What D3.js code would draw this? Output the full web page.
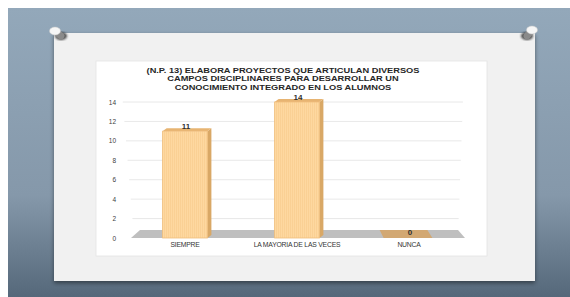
<!DOCTYPE html>
<html>
<head>
<meta charset="utf-8">
<script src="https://cdn.jsdelivr.net/npm/d3@7"></script>
<style>
  body { margin: 0; background: #fff; }
  svg { display: block; font-family: "Liberation Sans", Arial, sans-serif; }
</style>
</head>
<body>
<svg id="chart" width="570" height="297"></svg>
<script>
// data
var categories = ['SIEMPRE', 'LA MAYORIA DE LAS VECES', 'NUNCA']
var values = [11, 14, 0]
var yTicks = [0, 2, 4, 6, 8, 10, 12, 14]
var titleLines = [
    '(N.P. 13) ELABORA PROYECTOS QUE ARTICULAN DIVERSOS',
    'CAMPOS DISCIPLINARES PARA DESARROLLAR UN',
    'CONOCIMIENTO INTEGRADO EN LOS ALUMNOS'
]

var svg = d3.select('#chart')
var defs = svg.append('defs')

// backdrop gradient (slide background)
var bg = defs.append('linearGradient').attr('id', 'bg').attr('x1', 0).attr('y1', 0).attr('x2', 0).attr('y2', 1)
bg.append('stop').attr('offset', '0%').attr('stop-color', '#93a8ba')
bg.append('stop').attr('offset', '65%').attr('stop-color', '#8598aa')
bg.append('stop').attr('offset', '100%').attr('stop-color', '#55687a')

var shadow = defs.append('filter').attr('id', 'sh').attr('x', '-10%').attr('y', '-10%').attr('width', '120%').attr('height', '130%')
shadow.append('feDropShadow').attr('dx', 0).attr('dy', 2).attr('stdDeviation', 2).attr('flood-color', '#000').attr('flood-opacity', 0.45)

var blur = defs.append('filter').attr('id', 'bl')
blur.append('feGaussianBlur').attr('stdDeviation', 1)

// bar texture - thin vertical stripes
var pat = defs.append('pattern').attr('id', 'stripes').attr('patternUnits', 'userSpaceOnUse').attr('width', 2).attr('height', 4)
pat.append('rect').attr('width', 2).attr('height', 4).attr('fill', '#fed8a0')
pat.append('rect').attr('width', 0.6).attr('height', 4).attr('fill', '#f8cc8c')

svg.append('rect').attr('x', 8).attr('y', 8).attr('width', 562).attr('height', 289).attr('fill', 'url(#bg)')

// card
svg.append('rect').attr('x', 54).attr('y', 33).attr('width', 481).attr('height', 248)
    .attr('fill', '#f1f1f1').attr('filter', 'url(#sh)')

// pins
function pin(cx, cy, sx, sy) {
    svg.append('ellipse').attr('cx', sx).attr('cy', sy).attr('rx', 6).attr('ry', 4)
        .attr('fill', '#2e2e2e').attr('opacity', 0.85).attr('filter', 'url(#bl)')
    svg.append('line').attr('x1', cx).attr('y1', cy).attr('x2', sx).attr('y2', sy)
        .attr('stroke', '#8a8a8a').attr('stroke-width', 7).attr('stroke-linecap', 'round')
    svg.append('ellipse').attr('cx', cx).attr('cy', cy).attr('rx', 5.5).attr('ry', 4)
        .attr('fill', '#f6f6f6').attr('stroke', '#c8c8c8').attr('stroke-width', 0.5)
}
pin(55, 31, 61, 36)
pin(532, 30, 527, 36)

// chart area
svg.append('rect').attr('x', 96).attr('y', 61).attr('width', 391).attr('height', 195)
    .attr('fill', '#ffffff').attr('stroke', '#e4e4e4').attr('stroke-width', 0.8)

var x = d3.scaleBand().domain(categories).range([129, 465]).paddingInner(0.6).paddingOuter(0.3)
var y = d3.scaleLinear().domain([0, 14]).range([238, 102])

// title (glyphs are wide in the original, so stretch horizontally)
svg.append('g').attr('transform', 'translate(283,0) scale(1.25,1)')
    .selectAll('text').data(titleLines).join('text')
    .attr('x', 0).attr('y', (d, i) => 73 + i * 8.5)
    .attr('text-anchor', 'middle').attr('font-size', 7.4).attr('font-weight', 'bold')
    .attr('fill', '#262626').text(d => d)

// gridlines
svg.append('g').selectAll('line').data(yTicks.filter(d => d > 0)).join('line')
    .attr('x1', d => 134 - d * 0.8).attr('x2', d => 458 + d * 0.35)
    .attr('y1', d => y(d)).attr('y2', d => y(d))
    .attr('stroke', '#e2e2e2').attr('stroke-width', 0.8)

// y axis labels
var yAxis = d3.axisLeft(y).tickValues(yTicks).tickSize(0).tickPadding(0)
var ya = svg.append('g').attr('transform', 'translate(116,0)').call(yAxis)
ya.select('.domain').remove()
ya.selectAll('text').attr('font-size', 6.5).attr('fill', '#404040').attr('font-family', 'Liberation Sans, Arial, sans-serif')

// floor
var y0 = y(0)
svg.append('polygon')
    .attr('points', [[131, y0], [465, y0], [458, y0 - 8], [140, y0 - 8]].map(p => p.join(',')).join(' '))
    .attr('fill', '#bfbfbf')

// bars (3d-ish)
var dx = 4, dy = -3
var bars = svg.append('g').selectAll('g').data(categories).join('g')
bars.each(function (c, i) {
    var g = d3.select(this)
    var x0 = x(c), w = x.bandwidth(), v = values[i]
    if (v === 0) {
        g.append('polygon')
            .attr('points', [[x0 - 3, y0], [x0 + w + 1, y0], [x0 + w - 4, y0 - 8], [x0 - 7, y0 - 8]].map(p => p.join(',')).join(' '))
            .attr('fill', '#d2a873')
        return
    }
    var top = y(v)
    g.append('polygon')
        .attr('points', [[x0 + w, top], [x0 + w + dx, top + dy], [x0 + w + dx, y0 + dy], [x0 + w, y0]].map(p => p.join(',')).join(' '))
        .attr('fill', '#d9a866')
    g.append('polygon')
        .attr('points', [[x0, top], [x0 + dx, top + dy], [x0 + w + dx, top + dy], [x0 + w, top]].map(p => p.join(',')).join(' '))
        .attr('fill', '#e7b472')
    g.append('rect').attr('x', x0).attr('y', top).attr('width', w).attr('height', y0 - top)
        .attr('fill', 'url(#stripes)').attr('stroke', '#efbd7c').attr('stroke-width', 0.8)
})

// value labels
svg.append('g').selectAll('text').data(categories).join('text')
    .attr('x', c => x(c) + x.bandwidth() / 2 + 1)
    .attr('y', (c, i) => values[i] === 0 ? y0 - 3 : y(values[i]) - 2)
    .attr('text-anchor', 'middle').attr('font-size', 8).attr('font-weight', 'bold')
    .attr('fill', '#303030').text((c, i) => values[i])

// category labels
svg.append('g').selectAll('text').data(categories).join('text')
    .attr('x', c => x(c) + x.bandwidth() / 2)
    .attr('y', 246.5)
    .attr('text-anchor', 'middle').attr('font-size', 6.8)
    .attr('fill', '#333').attr('letter-spacing', -0.2).text(c => c)
</script>
</body>
</html>
